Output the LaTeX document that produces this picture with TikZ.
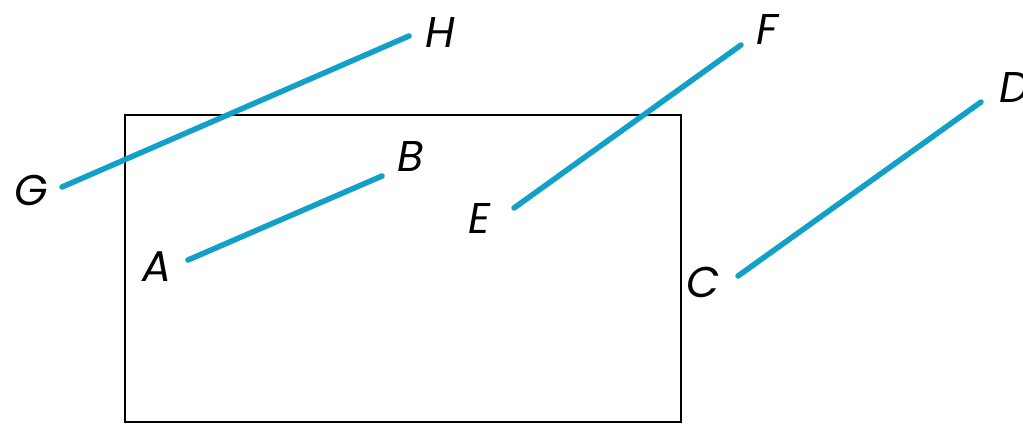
\documentclass[tikz,border=0pt]{standalone}
\usepackage{fontspec}
\setmainfont{Poppins}
\definecolor{segblue}{RGB}{16,160,200}
\tikzset{
  seg/.style={draw=segblue, line width=5.5pt, line cap=round},
  lbl/.style={inner sep=0pt, font=\fontsize{43}{50}\selectfont\itshape},
  frame/.style={draw=black, line width=2.5pt}
}
\begin{document}
\begin{tikzpicture}[x=1pt,y=-1pt]
\useasboundingbox (0,0) rectangle (1023,425);
\draw[frame] (125,115) rectangle (681,422);
\coordinate (g) at (62,187);
\coordinate (h) at (409,36);
\coordinate (a) at (188,260);
\coordinate (b) at (382,176);
\coordinate (e) at (514,208);
\coordinate (f) at (741,45);
\coordinate (c) at (738,276);
\coordinate (d) at (981,102);
\draw[seg] (g) -- (h);
\draw[seg] (a) -- (b);
\draw[seg] (e) -- (f);
\draw[seg] (c) -- (d);
\node[lbl] (G) at (31,190) {G};
\node[lbl] (H) at (440,33) {H};
\node[lbl] (A) at (157,267) {A};
\node[lbl] (B) at (411,157) {B};
\node[lbl] (E) at (480,218) {E};
\node[lbl] (F) at (767,30) {F};
\node[lbl] (C) at (703,282) {C};
\node[lbl] (D) at (1015,88) {D};
\end{tikzpicture}
\end{document}
